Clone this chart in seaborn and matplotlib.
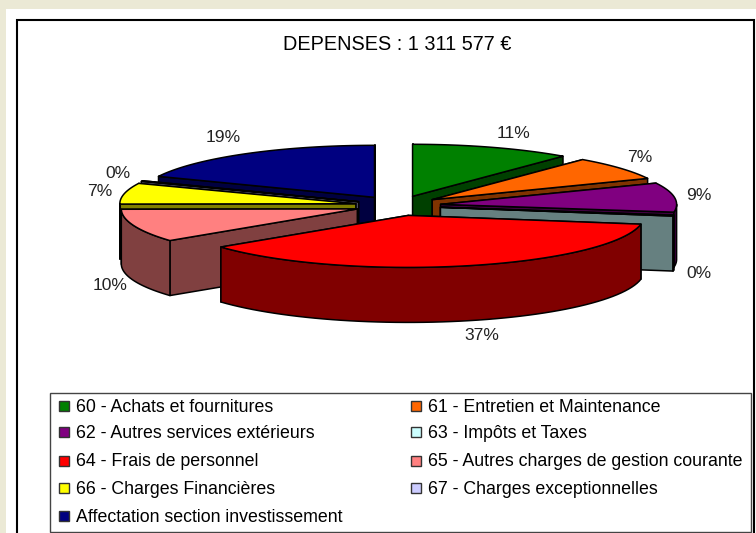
import numpy as np
import matplotlib
matplotlib.use("Agg")
import matplotlib.pyplot as plt
from matplotlib.patches import Polygon, Rectangle
from matplotlib.colors import to_rgb
import seaborn as sns

title = "DEPENSES : 1 311 577 €"
categories = ["60 - Achats et fournitures", "61 - Entretien et Maintenance",
              "62 - Autres services extérieurs", "63 - Impôts et Taxes",
              "64 - Frais de personnel", "65 - Autres charges de gestion courante",
              "66 - Charges Financières", "67 - Charges exceptionnelles",
              "Affectation section investissement"]
values = [11.0, 7.3, 9.1, 0.3, 36.9, 10.3, 6.5, 0.2, 18.4]
pct_labels = ["11%", "7%", "9%", "0%", "37%", "10%", "7%", "0%", "19%"]
colors = ["#008000", "#FF6600", "#800080", "#CCFFFF", "#FF0000",
          "#FF8080", "#FFFF00", "#CCCCFF", "#000080"]

# layout, everything is in pixels of the picture
label_pos = [(513, 133), (640, 157), (699, 195), (699, 273), (482, 335),
             (110, 286), (100, 191), (118, 173), (223, 138)]
cx, cy = 398, 205.7
rx, ry = 236, 52
ex, ey = 43, 10
depth = 55

sns.set_theme(style="white")
plt.rcParams['font.family'] = ['Liberation Sans', 'DejaVu Sans']

fig = plt.figure(figsize=(7.56, 5.33), dpi=100, facecolor="#EBE9D5")
ax = fig.add_axes([0, 0, 1, 1])
ax.set_xlim(0, 756)
ax.set_ylim(533, 0)
ax.axis("off")

ax.add_patch(Rectangle((6, 9), 750, 524, fc="white", ec="none", zorder=0))
ax.add_patch(Rectangle((17, 20), 737, 520, fc="white", ec="black", lw=1.5, zorder=0))


def arc(x0, y0, a0, a1):
    t = np.radians(np.linspace(a0, a1, 60))
    return np.column_stack([x0 + rx * np.sin(t), y0 - ry * np.cos(t)])


def shift(pts):
    return pts + np.array([0, depth])


# slices, angles clockwise from the top
total = sum(values)
stops = np.cumsum([0] + values) / total * 360
slices = []
for i, col in enumerate(colors):
    a0, a1 = stops[i], stops[i + 1]
    mid = np.radians((a0 + a1) / 2)
    slices.append((cy - ey * np.cos(mid), cx + ex * np.sin(mid), a0, a1, col))

zo = 1
# back slices first
for y0, x0, a0, a1, col in sorted(slices, key=lambda s: s[0]):
    dark = tuple(c * 0.5 for c in to_rgb(col))
    apex = np.array([[x0, y0]])
    rim = arc(x0, y0, a0, a1)
    walls = []
    for end in (rim[0:1], rim[-1:]):
        top = np.vstack([apex, end])
        walls.append(np.vstack([top, shift(top)[::-1]]))
    lo, hi = max(a0, 90), min(a1, 270)
    if hi > lo:
        front = arc(x0, y0, lo, hi)
        walls.append(np.vstack([front, shift(front)[::-1]]))
    for w in sorted(walls, key=lambda w: w[:, 1].mean()):
        ax.add_patch(Polygon(w, fc=dark, ec="black", lw=1.1, joinstyle="round", zorder=zo))
        zo += 1
    ax.add_patch(Polygon(np.vstack([apex, rim]), fc=col, ec="black", lw=1.1, joinstyle="round", zorder=zo))
    zo += 1

ax.text(397, 45, title, ha="center", va="center", fontsize=14.3, color="black", zorder=zo)
for (x, y), s in zip(label_pos, pct_labels):
    ax.text(x, y, s, ha="center", va="center", fontsize=12.6, color="#222222", zorder=zo)

# legend box
ax.add_patch(Rectangle((49.5, 393), 701.5, 139, fc="white", ec="#444444", lw=1, zorder=zo))
row_y = [406, 432, 461, 488, 516]
col_x = [58, 410]
for i, (name, col) in enumerate(zip(categories, colors)):
    x = col_x[i % 2]
    y = row_y[i // 2]
    ax.add_patch(Rectangle((x + 1, y - 5), 10, 10, fc=col, ec="#333333", lw=1, zorder=zo + 1))
    ax.text(x + 18, y + 1, name, ha="left", va="center", fontsize=12.8, color="black", zorder=zo + 1)

fig.savefig("out.png", dpi=100, facecolor=fig.get_facecolor())
